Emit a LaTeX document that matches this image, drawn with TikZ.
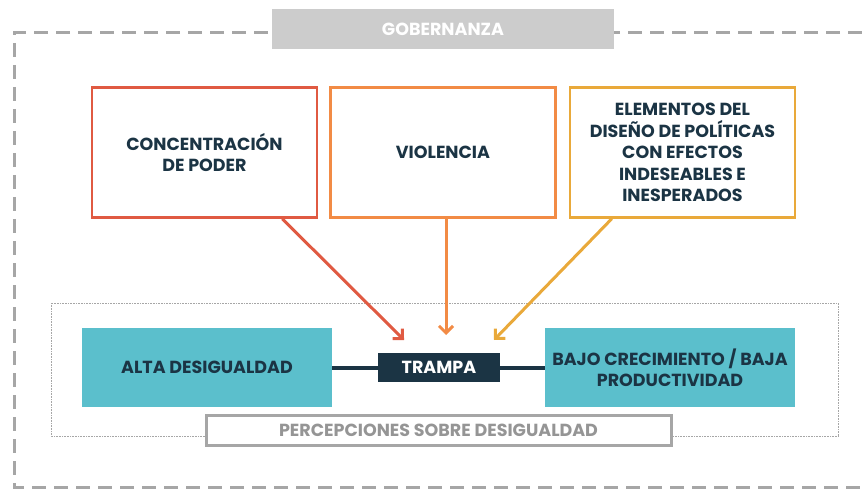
\documentclass[tikz,border=0pt]{standalone}
\usepackage{fontspec}
\setsansfont{Poppins}
\usetikzlibrary{positioning,arrows.meta,calc}

\definecolor{navy}{HTML}{1B3444}
\definecolor{teal}{HTML}{5BBFCC}
\definecolor{redbox}{HTML}{E05A42}
\definecolor{orangebox}{HTML}{F28B45}
\definecolor{yellowbox}{HTML}{E9A93A}
\definecolor{govgray}{HTML}{CCCCCC}
\definecolor{dashgray}{HTML}{A6A6A6}

\begin{document}
\begin{tikzpicture}[x=1pt,y=-1pt,
	  every node/.style = {align=center, inner sep=2pt, font=\sffamily\bfseries\fontsize{17.5}{21.5}\selectfont},
	  factor/.style = {draw, line width=2.5pt, fill=white, text=navy,
	    minimum width=225pt, minimum height=130pt},
	  outcome/.style = {fill=teal, text=navy, minimum width=250pt, minimum height=79pt},
	  trap/.style = {fill=navy, text=white, minimum width=122pt, minimum height=29pt},
	  flow/.style = {line width=3pt, -{Straight Barb[length=7pt,width=14pt]}}]
	  \useasboundingbox (0,0) rectangle (862,489);
	  % governance frame
	  \draw[dashgray, line width=3pt, dash pattern=on 14pt off 8pt]
	    (862,33) -- (14,33) -- (14,487) -- (862,487);
	  \node[fill=govgray, text=white, minimum width=342pt, minimum height=40pt] (gov) at (443,29) {GOBERNANZA};
	  % perception frame
	  \draw[dashgray, densely dotted, line width=0.6pt] (51,303) rectangle (838,436);
	  % factors
	  \node[factor, draw=redbox] (poder) at (204.5,152.5) {CONCENTRACIÓN\\DE PODER};
	  \node[factor, draw=orangebox] (violencia) at (443,152.5) {VIOLENCIA};
	  \node[factor, draw=yellowbox] (diseno) at (682.5,152.5) {ELEMENTOS DEL\\DISEÑO DE POLÍTICAS\\CON EFECTOS\\INDESEABLES E\\INESPERADOS};
	  % trap
	  \node[outcome] (alta) at (207,367.5) {ALTA DESIGUALDAD};
	  \node[trap] (trampa) at (439,367.5) {TRAMPA};
	  \node[outcome] (bajo) at (670,367.5) {BAJO CRECIMIENTO / BAJA\\PRODUCTIVIDAD};
	  \draw[navy, line width=4pt] (alta) -- (trampa) -- (bajo);
	  \node[draw=dashgray, line width=3pt, fill=white, text=dashgray!90!black,
	    minimum width=465pt, minimum height=30pt] (percep) at (438.5,430.5) {PERCEPCIONES SOBRE DESIGUALDAD};
	  % arrows into the trap
	  \coordinate (tipA) at (404,340);
	  \coordinate (tipB) at (446,335);
	  \coordinate (tipC) at (494,340);
	  \draw[flow, redbox] ($(poder.south east)+(-36,0)$) -- (tipA);
	  \draw[flow, orangebox] (violencia.south -| tipB) -- (tipB);
	  \draw[flow, yellowbox] ($(diseno.south west)+(43,0)$) -- (tipC);
	\end{tikzpicture}
\end{document}
